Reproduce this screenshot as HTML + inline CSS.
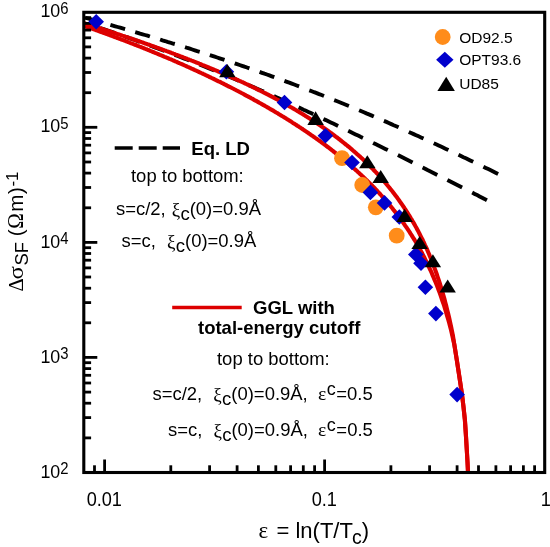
<!DOCTYPE html>
<html><head><meta charset="utf-8"><title>fig</title>
<style>
html,body{margin:0;padding:0;background:#fff;}
svg{display:block;will-change:transform;}
text{font-family:"Liberation Sans",sans-serif;fill:#000;}
.sy{font-family:"Liberation Serif",serif;}
.b{font-weight:bold;}
</style></head><body>
<svg width="550" height="547" viewBox="0 0 550 547">
<rect width="550" height="547" fill="#fff"/>
<g stroke="#000" stroke-width="3.9" fill="none">
<path d="M85.5,17.8 L87.9,18.5 L90.4,19.2 L92.8,19.9 L95.3,20.6 L97.7,21.3 L100.2,22.0 M110.4,24.9 L112.8,25.6 L115.3,26.3 L117.7,27.0 L120.2,27.7 L122.6,28.4 L125.1,29.1 M135.2,32.1 L137.7,32.8 L140.1,33.6 L142.6,34.3 L145.0,35.0 L147.5,35.7 L149.9,36.5 M160.1,39.5 L162.5,40.3 L165.0,41.0 L167.4,41.8 L169.9,42.5 L172.3,43.3 L174.8,44.0 M185.0,47.2 L187.4,48.0 L189.9,48.7 L192.3,49.5 L194.8,50.3 L197.2,51.1 L199.7,51.8 M209.8,55.1 L212.3,55.9 L214.7,56.7 L217.2,57.5 L219.6,58.3 L222.1,59.1 L224.5,59.9 M234.7,63.3 L237.2,64.2 L239.6,65.0 L242.1,65.8 L244.5,66.7 L247.0,67.5 L249.4,68.4 M259.6,71.9 L262.0,72.8 L264.5,73.7 L266.9,74.5 L269.4,75.4 L271.8,76.3 L274.3,77.2 M284.4,80.9 L286.9,81.8 L289.3,82.7 L291.8,83.6 L294.2,84.5 L296.7,85.5 L299.1,86.4 M309.3,90.3 L311.8,91.2 L314.2,92.2 L316.7,93.1 L319.1,94.1 L321.6,95.0 L324.0,96.0 M334.2,100.1 L336.6,101.0 L339.1,102.0 L341.5,103.0 L344.0,104.0 L346.4,105.0 L348.9,106.0 M359.1,110.3 L361.5,111.3 L363.9,112.3 L366.4,113.4 L368.9,114.4 L371.3,115.4 L373.8,116.5 M383.9,120.9 L386.4,121.9 L388.8,123.0 L391.3,124.1 L393.7,125.2 L396.2,126.2 L398.6,127.3 M408.8,131.9 L411.2,133.0 L413.7,134.1 L416.1,135.2 L418.6,136.3 L421.0,137.4 L423.5,138.5 M433.7,143.2 L436.1,144.3 L438.6,145.5 L441.0,146.6 L443.5,147.8 L445.9,148.9 L448.4,150.1 M458.5,154.8 L461.0,156.0 L463.4,157.2 L465.9,158.3 L468.3,159.5 L470.8,160.7 L473.2,161.8 M483.4,166.7 L485.8,167.9 L488.3,169.1 L490.8,170.3 L493.2,171.5 L495.6,172.7 L498.1,173.9"/>
<path d="M100.3,28.1 L102.7,28.9 L105.2,29.7 L107.6,30.5 L110.1,31.4 L112.5,32.2 L115.0,33.1 M125.1,36.6 L127.5,37.4 L130.0,38.3 L132.4,39.2 L134.9,40.0 L137.3,40.9 L139.8,41.8 M149.8,45.5 L152.3,46.4 L154.8,47.3 L157.2,48.2 L159.6,49.1 L162.1,50.0 L164.5,51.0 M174.7,54.8 L177.1,55.7 L179.6,56.7 L182.0,57.6 L184.4,58.6 L186.9,59.5 L189.3,60.5 M199.5,64.5 L201.9,65.5 L204.4,66.5 L206.8,67.5 L209.2,68.5 L211.7,69.5 L214.2,70.5 M224.3,74.7 L226.7,75.7 L229.2,76.7 L231.6,77.7 L234.1,78.8 L236.5,79.8 L239.0,80.9 M249.1,85.2 L251.5,86.3 L254.0,87.3 L256.4,88.4 L258.9,89.5 L261.3,90.6 L263.8,91.6 M273.9,96.1 L276.3,97.2 L278.8,98.3 L281.2,99.4 L283.7,100.6 L286.1,101.7 L288.6,102.8 M298.6,107.4 L301.1,108.5 L303.5,109.7 L306.0,110.8 L308.4,111.9 L310.9,113.1 L313.3,114.2 M323.4,119.0 L325.9,120.1 L328.3,121.3 L330.8,122.5 L333.2,123.6 L335.7,124.8 L338.1,126.0 M348.2,130.8 L350.7,132.0 L353.1,133.2 L355.6,134.4 L358.1,135.6 L360.5,136.8 L362.9,137.9 M373.1,142.9 L375.5,144.1 L377.9,145.3 L380.4,146.5 L382.9,147.7 L385.3,148.9 L387.8,150.1 M397.9,155.1 L400.3,156.3 L402.8,157.6 L405.2,158.8 L407.7,160.0 L410.1,161.2 L412.6,162.5 M422.6,167.5 L425.1,168.7 L427.5,170.0 L430.0,171.2 L432.4,172.4 L434.9,173.7 L437.3,174.9 M447.4,180.0 L449.9,181.3 L452.3,182.5 L454.8,183.8 L457.2,185.0 L459.7,186.3 L462.1,187.5 M472.2,192.6 L474.7,193.9 L477.1,195.1 L479.6,196.4 L482.1,197.7 L484.5,198.9 L486.9,200.2"/>
</g>
<g stroke="#dd0000" stroke-width="4.1" fill="none" stroke-linejoin="round">
<path d="M83.9,23.1 L84.9,23.4 L85.8,23.7 L86.8,24.0 L87.7,24.3 L88.7,24.6 L89.7,24.9 L90.6,25.2 L91.6,25.5 L92.6,25.8 L93.5,26.1 L94.5,26.5 L95.4,26.8 L96.4,27.1 L97.4,27.4 L98.3,27.7 L99.3,28.0 L100.2,28.3 L101.2,28.6 L102.2,28.9 L103.1,29.2 L104.1,29.6 L105.0,29.9 L106.0,30.2 L107.0,30.5 L107.9,30.8 L108.9,31.1 L109.9,31.4 L110.8,31.8 L111.8,32.1 L112.7,32.4 L113.7,32.7 L114.7,33.0 L115.6,33.3 L116.6,33.7 L117.5,34.0 L118.5,34.3 L119.5,34.6 L120.4,34.9 L121.4,35.3 L122.3,35.6 L123.3,35.9 L124.3,36.2 L125.2,36.6 L126.2,36.9 L127.2,37.2 L128.1,37.5 L129.1,37.9 L130.0,38.2 L131.0,38.5 L132.0,38.8 L132.9,39.2 L133.9,39.5 L134.8,39.8 L135.8,40.2 L136.8,40.5 L137.7,40.8 L138.7,41.1 L139.7,41.5 L140.6,41.8 L141.6,42.1 L142.5,42.5 L143.5,42.8 L144.5,43.2 L145.4,43.5 L146.4,43.8 L147.3,44.2 L148.3,44.5 L149.3,44.8 L150.2,45.2 L151.2,45.5 L152.1,45.9 L153.1,46.2 L154.1,46.5 L155.0,46.9 L156.0,47.2 L157.0,47.6 L157.9,47.9 L158.9,48.3 L159.8,48.6 L160.8,49.0 L161.8,49.3 L162.7,49.7 L163.7,50.0 L164.6,50.4 L165.6,50.7 L166.6,51.1 L167.5,51.4 L168.5,51.8 L169.4,52.1 L170.4,52.5 L171.4,52.9 L172.3,53.2 L173.3,53.6 L174.3,53.9 L175.2,54.3 L176.2,54.7 L177.1,55.0 L178.1,55.4 L179.1,55.7 L180.0,56.1 L181.0,56.5 L181.9,56.8 L182.9,57.2 L183.9,57.6 L184.8,57.9 L185.8,58.3 L186.8,58.7 L187.7,59.1 L188.7,59.4 L189.6,59.8 L190.6,60.2 L191.6,60.6 L192.5,60.9 L193.5,61.3 L194.4,61.7 L195.4,62.1 L196.4,62.5 L197.3,62.8 L198.3,63.2 L199.2,63.6 L200.2,64.0 L201.2,64.4 L202.1,64.8 L203.1,65.2 L204.1,65.5 L205.0,65.9 L206.0,66.3 L206.9,66.7 L207.9,67.1 L208.9,67.5 L209.8,67.9 L210.8,68.3 L211.7,68.7 L212.7,69.1 L213.7,69.5 L214.6,69.9 L215.6,70.3 L216.5,70.7 L217.5,71.1 L218.5,71.6 L219.4,72.0 L220.4,72.4 L221.4,72.8 L222.3,73.2 L223.3,73.6 L224.2,74.0 L225.2,74.4 L226.2,74.9 L227.1,75.3 L228.1,75.7 L229.0,76.1 L230.0,76.6 L231.0,77.0 L231.9,77.4 L232.9,77.8 L233.9,78.3 L234.8,78.7 L235.8,79.1 L236.7,79.6 L237.7,80.0 L238.7,80.5 L239.6,80.9 L240.6,81.3 L241.5,81.8 L242.5,82.2 L243.5,82.7 L244.4,83.1 L245.4,83.6 L246.3,84.0 L247.3,84.5 L248.3,84.9 L249.2,85.4 L250.2,85.9 L251.2,86.3 L252.1,86.8 L253.1,87.2 L254.0,87.7 L255.0,88.2 L256.0,88.6 L256.9,89.1 L257.9,89.6 L258.8,90.1 L259.8,90.5 L260.8,91.0 L261.7,91.5 L262.7,92.0 L263.6,92.5 L264.6,93.0 L265.6,93.4 L266.5,93.9 L267.5,94.4 L268.5,94.9 L269.4,95.4 L270.4,95.9 L271.3,96.4 L272.3,96.9 L273.3,97.4 L274.2,97.9 L275.2,98.5 L276.1,99.0 L277.1,99.5 L278.1,100.0 L279.0,100.5 L280.0,101.1 L281.0,101.6 L281.9,102.1 L282.9,102.6 L283.8,103.2 L284.8,103.7 L285.8,104.2 L286.7,104.8 L287.7,105.3 L288.6,105.9 L289.6,106.4 L290.6,107.0 L291.5,107.5 L292.5,108.1 L293.4,108.6 L294.4,109.2 L295.4,109.8 L296.3,110.3 L297.3,110.9 L298.3,111.5 L299.2,112.1 L300.2,112.6 L301.1,113.2 L302.1,113.8 L303.1,114.4 L304.0,115.0 L305.0,115.6 L305.9,116.2 L306.9,116.8 L307.9,117.4 L308.8,118.0 L309.8,118.6 L310.7,119.2 L311.7,119.8 L312.7,120.5 L313.6,121.1 L314.6,121.7 L315.6,122.3 L316.5,123.0 L317.5,123.6 L318.4,124.3 L319.4,124.9 L320.4,125.6 L321.3,126.2 L322.3,126.9 L323.2,127.6 L324.2,128.2 L325.2,128.9 L326.1,129.6 L327.1,130.2 L328.1,130.9 L329.0,131.6 L330.0,132.3 L330.9,133.0 L331.9,133.7 L332.9,134.4 L333.8,135.1 L334.8,135.9 L335.7,136.6 L336.7,137.3 L337.7,138.0 L338.6,138.8 L339.6,139.5 L340.5,140.3 L341.5,141.0 L342.5,141.8 L343.4,142.5 L344.4,143.3 L345.4,144.1 L346.3,144.9 L347.3,145.6 L348.2,146.4 L349.2,147.2 L350.2,148.0 L351.1,148.9 L352.1,149.7 L353.0,150.5 L354.0,151.3 L355.0,152.2 L355.9,153.0 L356.9,153.9 L357.8,154.7 L358.8,155.6 L359.8,156.4 L360.7,157.3 L361.7,158.2 L362.7,159.1 L363.6,160.0 L364.6,160.9 L365.5,161.8 L366.5,162.7 L367.5,163.7 L368.4,164.6 L369.4,165.6 L370.3,166.5 L371.3,167.5 L372.3,168.5 L373.2,169.5 L374.2,170.5 L375.2,171.5 L376.1,172.5 L377.1,173.5 L378.0,174.5 L379.0,175.6 L380.0,176.6 L380.9,177.7 L381.9,178.8 L382.8,179.9 L383.8,181.0 L384.8,182.1 L385.7,183.2 L386.7,184.4 L387.6,185.5 L388.6,186.7 L389.6,187.9 L390.5,189.1 L391.5,190.3 L392.5,191.5 L393.4,192.7 L394.4,194.0 L395.3,195.2 L396.3,196.5 L397.3,197.8 L398.2,199.1 L399.2,200.5 L400.1,201.8 L401.1,203.2 L402.1,204.6 L403.0,206.0 L404.0,207.4 L404.9,208.9 L405.9,210.3 L406.9,211.8 L407.8,213.3 L408.8,214.9 L409.8,216.4 L410.7,218.0 L411.7,219.6 L412.6,221.2 L413.6,222.9 L414.6,224.6 L415.5,226.3 L416.5,228.0 L417.4,229.8 L418.4,231.6 L419.4,233.5 L420.3,235.3 L421.3,237.3 L422.3,239.2 L423.2,241.2 L424.2,243.2 L425.1,245.3 L426.1,247.4 L427.1,249.5 L428.0,251.7 L429.0,254.0 L429.9,256.3 L430.9,258.6 L431.9,261.1 L432.8,263.5 L433.8,266.0 L434.7,268.6 L435.7,271.3 L436.7,274.0 L437.6,276.8 L438.6,279.7 L439.6,282.7 L440.5,285.7 L441.5,288.8 L442.4,292.1 L443.4,295.4 L444.4,298.8 L445.3,302.4 L446.3,306.1 L447.2,309.9 L448.2,313.8 L449.2,317.9 L450.1,322.2 L451.1,326.6 L452.0,331.2 L453.0,336.0 L454.4,345.0 L456.8,360.0 L459.1,375.0 L460.6,385.0 L462.0,394.6 L463.5,407.0 L464.9,420.0 L465.9,435.0 L466.8,450.0 L467.5,462.0 L468.0,472.0"/>
<path d="M83.9,25.9 L84.9,26.2 L85.8,26.5 L86.8,26.9 L87.7,27.2 L88.7,27.5 L89.7,27.9 L90.6,28.2 L91.6,28.6 L92.6,28.9 L93.5,29.2 L94.5,29.6 L95.4,29.9 L96.4,30.3 L97.4,30.6 L98.3,31.0 L99.3,31.3 L100.2,31.7 L101.2,32.0 L102.2,32.4 L103.1,32.7 L104.1,33.1 L105.0,33.4 L106.0,33.8 L107.0,34.1 L107.9,34.5 L108.9,34.8 L109.9,35.2 L110.8,35.5 L111.8,35.9 L112.7,36.2 L113.7,36.6 L114.7,37.0 L115.6,37.3 L116.6,37.7 L117.5,38.0 L118.5,38.4 L119.5,38.8 L120.4,39.1 L121.4,39.5 L122.3,39.8 L123.3,40.2 L124.3,40.6 L125.2,40.9 L126.2,41.3 L127.2,41.7 L128.1,42.1 L129.1,42.4 L130.0,42.8 L131.0,43.2 L132.0,43.5 L132.9,43.9 L133.9,44.3 L134.8,44.7 L135.8,45.0 L136.8,45.4 L137.7,45.8 L138.7,46.2 L139.7,46.6 L140.6,46.9 L141.6,47.3 L142.5,47.7 L143.5,48.1 L144.5,48.5 L145.4,48.9 L146.4,49.2 L147.3,49.6 L148.3,50.0 L149.3,50.4 L150.2,50.8 L151.2,51.2 L152.1,51.6 L153.1,52.0 L154.1,52.4 L155.0,52.8 L156.0,53.2 L157.0,53.6 L157.9,54.0 L158.9,54.4 L159.8,54.8 L160.8,55.2 L161.8,55.6 L162.7,56.0 L163.7,56.4 L164.6,56.8 L165.6,57.2 L166.6,57.6 L167.5,58.0 L168.5,58.4 L169.4,58.8 L170.4,59.2 L171.4,59.6 L172.3,60.0 L173.3,60.5 L174.3,60.9 L175.2,61.3 L176.2,61.7 L177.1,62.1 L178.1,62.6 L179.1,63.0 L180.0,63.4 L181.0,63.8 L181.9,64.2 L182.9,64.7 L183.9,65.1 L184.8,65.5 L185.8,66.0 L186.8,66.4 L187.7,66.8 L188.7,67.2 L189.6,67.7 L190.6,68.1 L191.6,68.6 L192.5,69.0 L193.5,69.4 L194.4,69.9 L195.4,70.3 L196.4,70.7 L197.3,71.2 L198.3,71.6 L199.2,72.1 L200.2,72.5 L201.2,73.0 L202.1,73.4 L203.1,73.9 L204.1,74.3 L205.0,74.8 L206.0,75.2 L206.9,75.7 L207.9,76.2 L208.9,76.6 L209.8,77.1 L210.8,77.5 L211.7,78.0 L212.7,78.5 L213.7,78.9 L214.6,79.4 L215.6,79.9 L216.5,80.3 L217.5,80.8 L218.5,81.3 L219.4,81.7 L220.4,82.2 L221.4,82.7 L222.3,83.2 L223.3,83.6 L224.2,84.1 L225.2,84.6 L226.2,85.1 L227.1,85.6 L228.1,86.1 L229.0,86.6 L230.0,87.0 L231.0,87.5 L231.9,88.0 L232.9,88.5 L233.9,89.0 L234.8,89.5 L235.8,90.0 L236.7,90.5 L237.7,91.0 L238.7,91.5 L239.6,92.0 L240.6,92.5 L241.5,93.0 L242.5,93.5 L243.5,94.0 L244.4,94.6 L245.4,95.1 L246.3,95.6 L247.3,96.1 L248.3,96.6 L249.2,97.1 L250.2,97.7 L251.2,98.2 L252.1,98.7 L253.1,99.2 L254.0,99.8 L255.0,100.3 L256.0,100.8 L256.9,101.4 L257.9,101.9 L258.8,102.4 L259.8,103.0 L260.8,103.5 L261.7,104.1 L262.7,104.6 L263.6,105.2 L264.6,105.7 L265.6,106.3 L266.5,106.8 L267.5,107.4 L268.5,107.9 L269.4,108.5 L270.4,109.1 L271.3,109.6 L272.3,110.2 L273.3,110.7 L274.2,111.3 L275.2,111.9 L276.1,112.5 L277.1,113.0 L278.1,113.6 L279.0,114.2 L280.0,114.8 L281.0,115.4 L281.9,116.0 L282.9,116.5 L283.8,117.1 L284.8,117.7 L285.8,118.3 L286.7,118.9 L287.7,119.5 L288.6,120.1 L289.6,120.7 L290.6,121.3 L291.5,121.9 L292.5,122.6 L293.4,123.2 L294.4,123.8 L295.4,124.4 L296.3,125.0 L297.3,125.7 L298.3,126.3 L299.2,126.9 L300.2,127.5 L301.1,128.2 L302.1,128.8 L303.1,129.5 L304.0,130.1 L305.0,130.8 L305.9,131.4 L306.9,132.1 L307.9,132.7 L308.8,133.4 L309.8,134.0 L310.7,134.7 L311.7,135.4 L312.7,136.0 L313.6,136.7 L314.6,137.4 L315.6,138.1 L316.5,138.7 L317.5,139.4 L318.4,140.1 L319.4,140.8 L320.4,141.5 L321.3,142.2 L322.3,142.9 L323.2,143.6 L324.2,144.3 L325.2,145.0 L326.1,145.8 L327.1,146.5 L328.1,147.2 L329.0,147.9 L330.0,148.7 L330.9,149.4 L331.9,150.2 L332.9,150.9 L333.8,151.7 L334.8,152.4 L335.7,153.2 L336.7,153.9 L337.7,154.7 L338.6,155.5 L339.6,156.2 L340.5,157.0 L341.5,157.8 L342.5,158.6 L343.4,159.4 L344.4,160.2 L345.4,161.0 L346.3,161.8 L347.3,162.6 L348.2,163.4 L349.2,164.3 L350.2,165.1 L351.1,165.9 L352.1,166.8 L353.0,167.6 L354.0,168.5 L355.0,169.3 L355.9,170.2 L356.9,171.0 L357.8,171.9 L358.8,172.8 L359.8,173.7 L360.7,174.6 L361.7,175.5 L362.7,176.4 L363.6,177.3 L364.6,178.2 L365.5,179.1 L366.5,180.1 L367.5,181.0 L368.4,182.0 L369.4,182.9 L370.3,183.9 L371.3,184.8 L372.3,185.8 L373.2,186.8 L374.2,187.8 L375.2,188.8 L376.1,189.8 L377.1,190.8 L378.0,191.9 L379.0,192.9 L380.0,194.0 L380.9,195.0 L381.9,196.1 L382.8,197.2 L383.8,198.2 L384.8,199.3 L385.7,200.4 L386.7,201.6 L387.6,202.7 L388.6,203.8 L389.6,205.0 L390.5,206.1 L391.5,207.3 L392.5,208.5 L393.4,209.7 L394.4,210.9 L395.3,212.1 L396.3,213.4 L397.3,214.6 L398.2,215.9 L399.2,217.2 L400.1,218.5 L401.1,219.8 L402.1,221.1 L403.0,222.5 L404.0,223.8 L404.9,225.2 L405.9,226.6 L406.9,228.0 L407.8,229.4 L408.8,230.9 L409.8,232.4 L410.7,233.9 L411.7,235.4 L412.6,236.9 L413.6,238.5 L414.6,240.0 L415.5,241.6 L416.5,243.3 L417.4,244.9 L418.4,246.6 L419.4,248.3 L420.3,250.0 L421.3,251.8 L422.3,253.6 L423.2,255.4 L424.2,257.3 L425.1,259.1 L426.1,261.1 L427.1,263.0 L428.0,265.0 L429.0,267.1 L429.9,269.1 L430.9,271.2 L431.9,273.4 L432.8,275.6 L433.8,277.9 L434.7,280.2 L435.7,282.5 L436.7,284.9 L437.6,287.4 L438.6,290.0 L439.6,292.6 L440.5,295.2 L441.5,298.0 L442.4,300.8 L443.4,303.7 L444.4,306.6 L445.3,309.7 L446.3,312.9 L447.2,316.1 L448.2,319.5 L449.2,323.0 L450.1,326.6 L451.1,330.3 L452.0,334.2 L454.4,345.0 L456.8,360.0 L459.1,375.0 L460.6,385.0 L462.0,394.6 L463.5,407.0 L464.9,420.0 L465.9,435.0 L466.8,450.0 L467.5,462.0 L468.0,472.0"/>
</g>
<g stroke="#000" stroke-width="2.8" fill="none"><line x1="83.8" y1="437.9" x2="91.1" y2="437.9"/><line x1="83.8" y1="417.6" x2="91.1" y2="417.6"/><line x1="83.8" y1="403.2" x2="91.1" y2="403.2"/><line x1="83.8" y1="392.1" x2="91.1" y2="392.1"/><line x1="83.8" y1="383.0" x2="91.1" y2="383.0"/><line x1="83.8" y1="375.3" x2="91.1" y2="375.3"/><line x1="83.8" y1="368.6" x2="91.1" y2="368.6"/><line x1="83.8" y1="362.7" x2="91.1" y2="362.7"/><line x1="83.8" y1="357.4" x2="97.3" y2="357.4"/><line x1="83.8" y1="322.8" x2="91.1" y2="322.8"/><line x1="83.8" y1="302.6" x2="91.1" y2="302.6"/><line x1="83.8" y1="288.2" x2="91.1" y2="288.2"/><line x1="83.8" y1="277.0" x2="91.1" y2="277.0"/><line x1="83.8" y1="267.9" x2="91.1" y2="267.9"/><line x1="83.8" y1="260.2" x2="91.1" y2="260.2"/><line x1="83.8" y1="253.5" x2="91.1" y2="253.5"/><line x1="83.8" y1="247.7" x2="91.1" y2="247.7"/><line x1="83.8" y1="242.4" x2="97.3" y2="242.4"/><line x1="83.8" y1="207.8" x2="91.1" y2="207.8"/><line x1="83.8" y1="187.5" x2="91.1" y2="187.5"/><line x1="83.8" y1="173.1" x2="91.1" y2="173.1"/><line x1="83.8" y1="162.0" x2="91.1" y2="162.0"/><line x1="83.8" y1="152.9" x2="91.1" y2="152.9"/><line x1="83.8" y1="145.2" x2="91.1" y2="145.2"/><line x1="83.8" y1="138.5" x2="91.1" y2="138.5"/><line x1="83.8" y1="132.6" x2="91.1" y2="132.6"/><line x1="83.8" y1="127.3" x2="97.3" y2="127.3"/><line x1="83.8" y1="92.7" x2="91.1" y2="92.7"/><line x1="83.8" y1="72.5" x2="91.1" y2="72.5"/><line x1="83.8" y1="58.1" x2="91.1" y2="58.1"/><line x1="83.8" y1="46.9" x2="91.1" y2="46.9"/><line x1="83.8" y1="37.8" x2="91.1" y2="37.8"/><line x1="83.8" y1="30.1" x2="91.1" y2="30.1"/><line x1="83.8" y1="23.4" x2="91.1" y2="23.4"/><line x1="83.8" y1="17.6" x2="91.1" y2="17.6"/><line x1="104.6" y1="472.5" x2="104.6" y2="459.5"/><line x1="170.8" y1="472.5" x2="170.8" y2="465.3"/><line x1="209.6" y1="472.5" x2="209.6" y2="465.3"/><line x1="237.1" y1="472.5" x2="237.1" y2="465.3"/><line x1="258.4" y1="472.5" x2="258.4" y2="465.3"/><line x1="275.8" y1="472.5" x2="275.8" y2="465.3"/><line x1="290.6" y1="472.5" x2="290.6" y2="465.3"/><line x1="303.3" y1="472.5" x2="303.3" y2="465.3"/><line x1="314.6" y1="472.5" x2="314.6" y2="465.3"/><line x1="324.6" y1="472.5" x2="324.6" y2="459.5"/><line x1="390.9" y1="472.5" x2="390.9" y2="465.3"/><line x1="429.6" y1="472.5" x2="429.6" y2="465.3"/><line x1="457.1" y1="472.5" x2="457.1" y2="465.3"/><line x1="478.5" y1="472.5" x2="478.5" y2="465.3"/><line x1="495.9" y1="472.5" x2="495.9" y2="465.3"/><line x1="510.6" y1="472.5" x2="510.6" y2="465.3"/><line x1="523.4" y1="472.5" x2="523.4" y2="465.3"/><line x1="534.6" y1="472.5" x2="534.6" y2="465.3"/><line x1="94.5" y1="472.5" x2="94.5" y2="465.3"/></g>
<rect x="83.8" y="12.3" width="460.9" height="460.2" fill="none" stroke="#000" stroke-width="3.1"/>
<circle cx="342.0" cy="158.2" r="7.9" fill="#ff8c1a"/>
<circle cx="362.2" cy="185.0" r="7.9" fill="#ff8c1a"/>
<circle cx="375.8" cy="207.3" r="7.9" fill="#ff8c1a"/>
<circle cx="396.7" cy="235.7" r="7.9" fill="#ff8c1a"/>
<polygon points="96.2,14.0 104.0,21.8 96.2,29.6 88.4,21.8" fill="#0000cc"/>
<polygon points="226.4,64.0 234.2,71.8 226.4,79.6 218.6,71.8" fill="#0000cc"/>
<polygon points="284.5,94.7 292.3,102.5 284.5,110.3 276.7,102.5" fill="#0000cc"/>
<polygon points="325.4,127.9 333.2,135.7 325.4,143.5 317.6,135.7" fill="#0000cc"/>
<polygon points="352.0,154.7 359.8,162.5 352.0,170.3 344.2,162.5" fill="#0000cc"/>
<polygon points="370.4,184.6 378.2,192.4 370.4,200.2 362.6,192.4" fill="#0000cc"/>
<polygon points="384.5,195.1 392.3,202.9 384.5,210.7 376.7,202.9" fill="#0000cc"/>
<polygon points="399.3,209.2 407.1,217.0 399.3,224.8 391.5,217.0" fill="#0000cc"/>
<polygon points="415.8,246.7 423.6,254.5 415.8,262.3 408.0,254.5" fill="#0000cc"/>
<polygon points="421.0,255.5 428.8,263.3 421.0,271.1 413.2,263.3" fill="#0000cc"/>
<polygon points="425.4,279.4 433.2,287.2 425.4,295.0 417.6,287.2" fill="#0000cc"/>
<polygon points="435.9,305.8 443.7,313.6 435.9,321.4 428.1,313.6" fill="#0000cc"/>
<polygon points="457.1,386.8 464.9,394.6 457.1,402.4 449.3,394.6" fill="#0000cc"/>
<polygon points="227.3,63.9 219.1,77.2 235.6,77.2" fill="#000"/>
<polygon points="315.6,111.2 307.4,125.0 323.9,125.0" fill="#000"/>
<polygon points="367.3,155.3 359.1,168.3 375.6,168.3" fill="#000"/>
<polygon points="380.7,169.9 372.4,182.9 388.9,182.9" fill="#000"/>
<polygon points="404.6,208.8 396.4,221.9 412.9,221.9" fill="#000"/>
<polygon points="419.7,236.1 411.4,248.9 427.9,248.9" fill="#000"/>
<polygon points="432.9,254.3 424.6,267.2 441.1,267.2" fill="#000"/>
<polygon points="447.7,279.6 439.4,292.6 455.9,292.6" fill="#000"/>
<circle cx="442.7" cy="37.0" r="7.9" fill="#ff8c1a"/>
<polygon points="444.8,51.7 453.5,59.7 444.8,67.7 436.1,59.7" fill="#0000cc"/>
<polygon points="446.2,76.8 437.4,91.1 454.9,91.1" fill="#000"/>
<g font-size="15.5px"><text x="459.2" y="42.9">OD92.5</text><text x="459.2" y="65.4">OPT93.6</text><text x="459.2" y="89.3">UD85</text></g>
<text transform="translate(40.4,477.6) scale(0.94,1)" font-size="19px">10<tspan font-size="15.8px" dy="-3.2" dx="0.1">2</tspan></text>
<text transform="translate(40.4,362.6) scale(0.94,1)" font-size="19px">10<tspan font-size="15.8px" dy="-3.2" dx="0.1">3</tspan></text>
<text transform="translate(40.4,247.5) scale(0.94,1)" font-size="19px">10<tspan font-size="15.8px" dy="-3.2" dx="0.1">4</tspan></text>
<text transform="translate(40.4,132.4) scale(0.94,1)" font-size="19px">10<tspan font-size="15.8px" dy="-3.2" dx="0.1">5</tspan></text>
<text transform="translate(40.4,17.4) scale(0.94,1)" font-size="19px">10<tspan font-size="15.8px" dy="-3.2" dx="0.1">6</tspan></text>
<text transform="translate(104.3,506.2) scale(0.94,1)" font-size="19.3px" text-anchor="middle">0.01</text>
<text transform="translate(324.3,506.2) scale(0.94,1)" font-size="19.3px" text-anchor="middle">0.1</text>
<text transform="translate(545.7,506.2) scale(0.94,1)" font-size="19.3px" text-anchor="middle">1</text>
<text x="258.6" y="537.5" font-size="23px" class="sy">ε</text>
<text x="276.5" y="537.5" font-size="22px">= ln(T/T<tspan font-size="19.5px" dy="6" dx="-0.8">c</tspan><tspan dy="-6">)</tspan></text>
<text transform="translate(23.0,291.5) rotate(-90) scale(1,1)" font-size="20.5px" class="sy">Δ</text>
<text transform="translate(23.0,279.4) rotate(-90) scale(1.2,1)" font-size="20.5px" class="sy">σ</text>
<text transform="translate(27.9,265.6) rotate(-90) scale(1,1)" font-size="18.5px">SF</text>
<text transform="translate(23.0,236.3) rotate(-90) scale(1,1)" font-size="20.5px">(</text>
<text transform="translate(23.0,228.7) rotate(-90) scale(0.93,1)" font-size="22.5px" class="sy">Ω</text>
<text transform="translate(23.0,211.8) rotate(-90) scale(1,1)" font-size="20.5px">m</text>
<text transform="translate(23.0,194.0) rotate(-90) scale(1,1)" font-size="20.5px">)</text>
<text transform="translate(17.9,186.6) rotate(-90) scale(1,1)" font-size="17px">-1</text>
<path d="M114.7,148 H180" stroke="#000" stroke-width="3.4" stroke-dasharray="18 6" fill="none"/>
<text x="191.3" y="154.7" font-size="18.5px" class="b">Eq. LD</text>
<text x="131" y="182.2" font-size="18.45px">top to bottom:</text>
<text x="116" y="214.6" font-size="18.45px" xml:space="preserve">s=c/2, <tspan class="sy" font-size="19px" dy="1.3" dx="0.8">ξ</tspan><tspan font-size="18.6px" dy="4.1" dx="0.3">c</tspan><tspan dy="-5.4">(0)=0.9Å</tspan></text>
<text x="121.6" y="246.5" font-size="18.45px" xml:space="preserve">s=c,  <tspan class="sy" font-size="19px" dy="1.3" dx="0.8">ξ</tspan><tspan font-size="18.6px" dy="4.1" dx="0.3">c</tspan><tspan dy="-5.4">(0)=0.9Å</tspan></text>
<path d="M172.2,307.5 H241.7" stroke="#dd0000" stroke-width="3.4" fill="none"/>
<text x="253" y="313.8" font-size="18.5px" class="b">GGL with</text>
<text x="198" y="334" font-size="18.5px" class="b">total-energy cutoff</text>
<text x="217" y="365" font-size="18.45px">top to bottom:</text>
<text x="152.5" y="399.8" font-size="18.45px" xml:space="preserve">s=c/2,  <tspan class="sy" font-size="19px" dy="1.3" dx="0.8">ξ</tspan><tspan font-size="18.6px" dy="4.1" dx="0.3">c</tspan><tspan dy="-5.4">(0)=0.9Å</tspan>,  <tspan class="sy" font-size="19.5px">ε</tspan><tspan font-size="18px" dy="-4.6" dx="0.6">c</tspan><tspan dy="4.6" dx="0.5">=0.5</tspan></text>
<text x="168" y="436.0" font-size="18.45px" xml:space="preserve">s=c,  <tspan class="sy" font-size="19px" dy="1.3" dx="0.8">ξ</tspan><tspan font-size="18.6px" dy="4.1" dx="0.3">c</tspan><tspan dy="-5.4">(0)=0.9Å</tspan>,  <tspan class="sy" font-size="19.5px">ε</tspan><tspan font-size="18px" dy="-4.6" dx="0.6">c</tspan><tspan dy="4.6" dx="0.5">=0.5</tspan></text>
</svg></body></html>
